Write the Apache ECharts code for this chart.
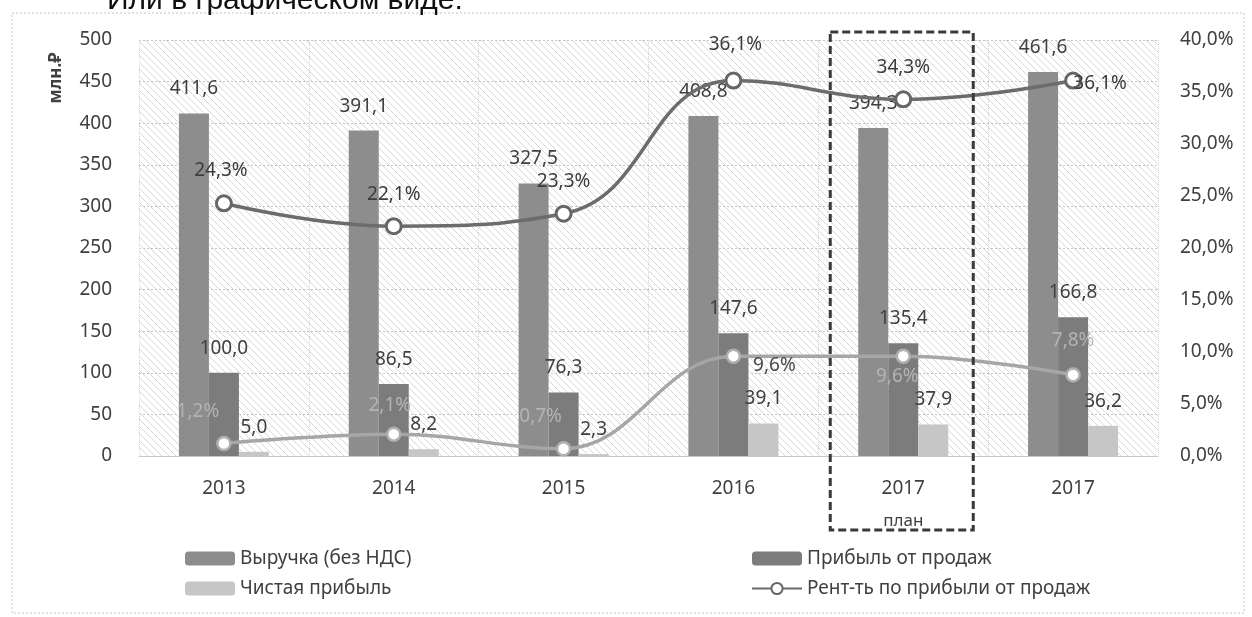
<!DOCTYPE html>
<html><head><meta charset="utf-8">
<script src="https://cdn.jsdelivr.net/npm/echarts@6/dist/echarts.min.js"></script>
<style>html,body{margin:0;padding:0;background:#fff}#c{width:1252px;height:617px}</style>
</head><body><div id="c"></div>
<script>
// ---- data ----
const categories = ['2013', '2014', '2015', '2016', '2017\nплан', '2017'];
const revenue = [411.6, 391.1, 327.5, 408.8, 394.3, 461.6];
const salesProfit = [100.0, 86.5, 76.3, 147.6, 135.4, 166.8];
const netProfit = [5.0, 8.2, 2.3, 39.1, 37.9, 36.2];
const salesMargin = [24.3, 22.1, 23.3, 36.1, 34.3, 36.1];
const netMargin = [1.2, 2.1, 0.7, 9.6, 9.6, 7.8];
const leftAxisTicks = { min: 0, max: 500, interval: 50 };
const rightAxisTicks = { min: 0, max: 40, interval: 5 };
const seriesNames = ['Выручка (без НДС)', 'Прибыль от продаж', 'Чистая прибыль', 'Рент-ть по прибыли от продаж', 'Рент-ть по чистой прибыли'];
const axisUnit = 'млн.₽';
const titleText = 'Или в графическом виде:';

// ---- layout / style (label offsets relative to markers, label tints) ----
const salesMarginLabelOffset = [[-3, -33], [0, -32], [0, -32], [2, -36], [0, -32], [27, 3]];
const netMarginLabelOffset = [[-26, -32], [-4, -29], [-23, -32], [41, 9], [-6, 20], [0, -34]];
const netMarginLabelColor = ['#b4b4b4', '#b4b4b4', '#b4b4b4', '#4a4a4a', '#b4b4b4', '#b4b4b4'];

const FONT = 'Noto Sans';
const TXT = '#404040';
const fmt1 = v => Number(v).toFixed(1).replace('.', ',');

// hatch pattern
const pc = document.createElement('canvas');
pc.width = pc.height = 7;
const pctx = pc.getContext('2d');
pctx.strokeStyle = 'rgba(140,140,140,0.36)';
pctx.lineWidth = 1;
pctx.beginPath();
pctx.moveTo(-1, -1); pctx.lineTo(8, 8);
pctx.moveTo(6, -1); pctx.lineTo(8, 1);
pctx.moveTo(-1, 6); pctx.lineTo(1, 8);
pctx.stroke();

const chart = echarts.init(document.getElementById('c'), null, { renderer: 'canvas' });

const barLabel = {
  show: true, position: 'top', distance: 15,
  fontFamily: FONT, fontSize: 19, color: TXT,
  formatter: p => fmt1(p.value)
};

function lineData(values, offsets, colors) {
  return values.map((v, i) => ({
    value: v,
    label: colors ? { offset: offsets[i], color: colors[i] } : { offset: offsets[i] }
  }));
}

const option = {
  backgroundColor: '#fff',
  animation: false,
  textStyle: { fontFamily: FONT },
  grid: {
    left: 139, right: 94, top: 40, bottom: 161,
    show: true, borderWidth: 0,
    backgroundColor: { image: pc, repeat: 'repeat' }
  },
  legend: [
    {
      left: 180, top: 544, orient: 'vertical', itemGap: 11,
      itemWidth: 50, itemHeight: 14,
      textStyle: { fontFamily: FONT, fontSize: 19, color: TXT, lineHeight: 19 },
      data: [seriesNames[0], seriesNames[2]]
    },
    {
      left: 746, top: 544, orient: 'vertical', itemGap: 11,
      itemWidth: 50, itemHeight: 14,
      textStyle: { fontFamily: FONT, fontSize: 19, color: TXT, lineHeight: 19 },
      data: [seriesNames[1], seriesNames[3]]
    }
  ],
  xAxis: {
    type: 'category',
    data: categories,
    boundaryGap: true,
    axisLine: { show: true, lineStyle: { color: '#c8c8c8', width: 1 } },
    axisTick: { show: false },
    splitLine: { show: true, lineStyle: { color: '#d6d6d6', type: 'dotted', width: 1 } },
    axisLabel: {
      margin: 21,
      formatter: v => {
        const parts = v.split('\n');
        return parts.length > 1 ? '{a|' + parts[0] + '}\n{b|' + parts[1] + '}' : '{a|' + v + '}';
      },
      rich: {
        a: { fontFamily: FONT, fontSize: 19, color: TXT, lineHeight: 24 },
        b: { fontFamily: FONT, fontSize: 17, color: TXT, lineHeight: 40 }
      }
    }
  },
  yAxis: [
    {
      type: 'value',
      min: leftAxisTicks.min, max: leftAxisTicks.max, interval: leftAxisTicks.interval,
      axisLine: { show: false }, axisTick: { show: false },
      splitLine: { show: true, lineStyle: { color: '#c6c6c6', type: [2, 2], width: 1 } },
      axisLabel: { margin: 27, fontFamily: FONT, fontSize: 19, color: TXT }
    },
    {
      type: 'value',
      min: rightAxisTicks.min, max: rightAxisTicks.max, interval: rightAxisTicks.interval,
      axisLine: { show: false }, axisTick: { show: false },
      splitLine: { show: false },
      axisLabel: { margin: 22, fontFamily: FONT, fontSize: 19, color: TXT, formatter: v => fmt1(v) + '%' }
    }
  ],
  series: [
    {
      name: seriesNames[0], type: 'bar', data: revenue,
      barWidth: 30, barGap: '0%',
      itemStyle: { color: '#8d8d8d' },
      label: barLabel, z: 2
    },
    {
      name: seriesNames[1], type: 'bar', data: salesProfit,
      barWidth: 30, barGap: '0%',
      itemStyle: { color: '#7c7c7c' },
      label: barLabel, z: 2
    },
    {
      name: seriesNames[2], type: 'bar', data: netProfit,
      barWidth: 30, barGap: '0%',
      itemStyle: { color: '#c6c6c6' },
      label: barLabel, z: 2
    },
    {
      name: seriesNames[4], type: 'line', yAxisIndex: 1,
      data: lineData(netMargin, netMarginLabelOffset, netMarginLabelColor),
      smooth: 0.4,
      symbol: 'circle', symbolSize: 13,
      lineStyle: { color: '#a6a6a6', width: 3.5 },
      itemStyle: { color: '#ffffff', borderColor: '#b0b0b0', borderWidth: 2.5 },
      label: {
        show: true, position: 'inside',
        fontFamily: FONT, fontSize: 19, textBorderWidth: 0,
        formatter: p => fmt1(p.value) + '%'
      },
      z: 4
    },
    {
      name: seriesNames[3], type: 'line', yAxisIndex: 1,
      data: lineData(salesMargin, salesMarginLabelOffset),
      smooth: 0.45,
      symbol: 'circle', symbolSize: 15,
      lineStyle: { color: '#6c6c6c', width: 3.5 },
      itemStyle: { color: '#ffffff', borderColor: '#666666', borderWidth: 3 },
      label: {
        show: true, position: 'inside',
        fontFamily: FONT, fontSize: 19, color: '#3c3c3c', textBorderWidth: 0,
        formatter: p => fmt1(p.value) + '%'
      },
      z: 5
    }
  ]
};
chart.setOption(option);

// annotations: outer frame, page title, axis unit, dashed "plan" box
const cx = chart.convertToPixel({ xAxisIndex: 0 }, 4);
const yTop = chart.convertToPixel({ yAxisIndex: 0 }, leftAxisTicks.max);
const yBase = chart.convertToPixel({ yAxisIndex: 0 }, leftAxisTicks.min);
chart.setOption({
  graphic: [
    {
      type: 'rect', silent: true, z: -1,
      shape: { x: 12, y: 13, width: 1232, height: 600 },
      style: { fill: 'none', stroke: '#c4c4c4', lineWidth: 1, lineDash: [2, 2] }
    },
    {
      type: 'text', left: 107, top: -14, silent: true,
      style: { text: titleText, fontFamily: 'Liberation Sans', fontSize: 30, fill: '#111' }
    },
    {
      type: 'text', x: 56, y: 78, rotation: Math.PI / 2, silent: true,
      style: { text: axisUnit, fontFamily: FONT, fontSize: 17, fontWeight: 'bold', fill: TXT, align: 'center', verticalAlign: 'middle' }
    },
    {
      type: 'rect', silent: true, z: 10,
      shape: { x: cx - 73, y: yTop - 8, width: 143, height: (yBase + 74) - (yTop - 8) },
      style: { fill: 'none', stroke: '#3a3a3a', lineWidth: 3, lineDash: [8, 4] }
    }
  ]
});
</script>
</body></html>
